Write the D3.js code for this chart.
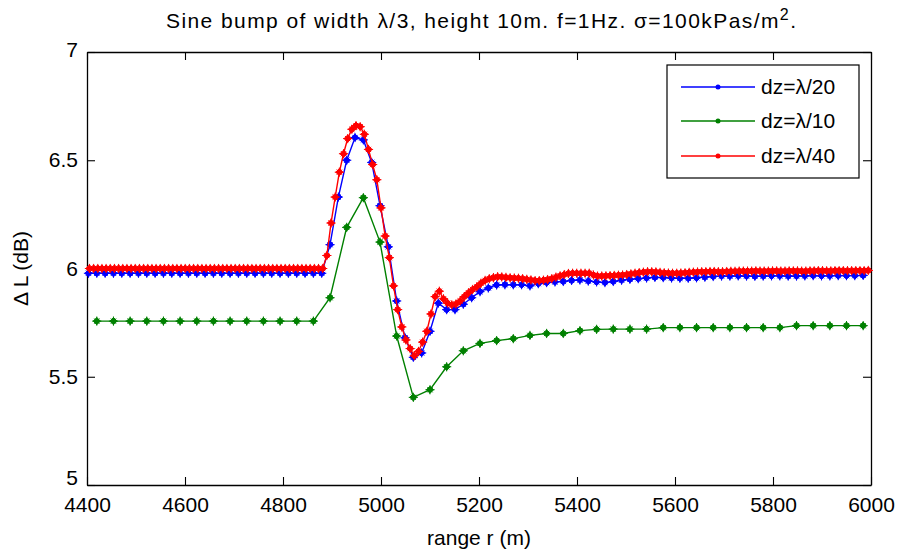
<!DOCTYPE html>
<html>
<head>
<meta charset="utf-8">
<script src="https://cdn.jsdelivr.net/npm/d3@7"></script>
<style>
  body { margin: 0; background: #fff; }
  text { font-family: "Liberation Sans", Arial, sans-serif; fill: #000; }
</style>
</head>
<body>
<svg id="chart" width="898" height="554"></svg>
<script>
// range grids: first range (m) and step (m) = dz of each run
const blueStart = 4403, blueStep = 17;
const greenStart = 4420, greenStep = 34;
const redStart = 4405, redStep = 8.5;

const seriesNames = ['dz=λ/20', 'dz=λ/10', 'dz=λ/40'];
const seriesColors = ['#0000ff', '#008000', '#ff0000'];

// dz = lambda/20
const blueDL = [
	5.978, 5.978, 5.978, 5.978, 5.978, 5.978, 5.978, 5.978, 5.978, 5.978,
	5.978, 5.978, 5.978, 5.978, 5.978, 5.978, 5.978, 5.978, 5.978, 5.978,
	5.978, 5.978, 5.978, 5.978, 5.978, 5.978, 5.978, 5.978, 5.978,
	6.11, 6.33, 6.50, 6.605, 6.594, 6.49, 6.29, 6.10, 5.85, 5.68,
	5.59, 5.61, 5.71, 5.84, 5.81, 5.81, 5.835, 5.865, 5.893, 5.91,
	5.924, 5.925, 5.925, 5.925, 5.92, 5.93, 5.935, 5.938, 5.94, 5.945,
	5.947, 5.942, 5.938, 5.935, 5.94, 5.946, 5.95, 5.953, 5.956, 5.959,
	5.958, 5.956, 5.955, 5.955, 5.957, 5.96, 5.963,
	5.965, 5.965, 5.966, 5.965, 5.964, 5.965, 5.966, 5.966, 5.965, 5.965,
	5.966, 5.967, 5.966, 5.966, 5.967, 5.967, 5.967, 5.968
];

// dz = lambda/10
const greenDL = [
	5.757, 5.757, 5.757, 5.757, 5.757, 5.757, 5.757, 5.757, 5.757, 5.757,
	5.757, 5.757, 5.757, 5.757,
	5.865, 6.19, 6.327, 6.122, 5.688, 5.405, 5.44, 5.546, 5.62, 5.654,
	5.667, 5.676, 5.691, 5.70, 5.70, 5.713, 5.719, 5.72, 5.72, 5.72,
	5.727, 5.727, 5.727, 5.727, 5.727, 5.727, 5.727, 5.727,
	5.736, 5.736, 5.736, 5.736, 5.736
];

// dz = lambda/40
const redDL = [
	6.00, 6.00, 6.00, 6.00, 6.00, 6.00, 6.00, 6.00, 6.00, 6.00,
	6.00, 6.00, 6.00, 6.00, 6.00, 6.00, 6.00, 6.00, 6.00, 6.00,
	6.00, 6.00, 6.00, 6.00, 6.00, 6.00, 6.00, 6.00, 6.00, 6.00,
	6.00, 6.00, 6.00, 6.00, 6.00, 6.00, 6.00, 6.00, 6.00, 6.00,
	6.00, 6.00, 6.00, 6.00, 6.00, 6.00, 6.00, 6.00, 6.00, 6.00,
	6.00, 6.00, 6.00, 6.00, 6.00, 6.00, 6.00,
	6.06, 6.21, 6.33, 6.445, 6.53, 6.60, 6.643, 6.66, 6.655, 6.62,
	6.55, 6.48, 6.41, 6.28, 6.15, 6.05, 5.92, 5.81, 5.73, 5.67,
	5.63, 5.597, 5.617, 5.66, 5.71, 5.79, 5.87, 5.895, 5.86, 5.84,
	5.832, 5.836, 5.85, 5.87, 5.888, 5.903, 5.915, 5.932, 5.945, 5.953,
	5.958, 5.962, 5.961, 5.959, 5.957, 5.956, 5.955, 5.953, 5.95, 5.947,
	5.944, 5.944, 5.946, 5.949, 5.953, 5.96, 5.966, 5.972, 5.977, 5.978,
	5.978, 5.978, 5.978, 5.978, 5.97, 5.965, 5.965, 5.966, 5.967, 5.968,
	5.969, 5.97, 5.972, 5.975, 5.978, 5.981, 5.983, 5.985, 5.985, 5.984,
	5.982, 5.98, 5.979, 5.978, 5.978, 5.979, 5.98,
	5.982, 5.983, 5.984, 5.985, 5.985, 5.986, 5.986, 5.985, 5.985, 5.986,
	5.987, 5.987, 5.988, 5.988, 5.988, 5.988, 5.989, 5.988, 5.988, 5.988,
	5.989, 5.989, 5.988, 5.988, 5.989, 5.989, 5.989, 5.988, 5.988, 5.989,
	5.989, 5.99, 5.99, 5.989, 5.989, 5.99, 5.99, 5.99, 5.99, 5.99,
	5.99, 5.99, 5.99, 5.991
];

const xTicks = [4400, 4600, 4800, 5000, 5200, 5400, 5600, 5800, 6000];
const yTicks = [5, 5.5, 6, 6.5, 7];

const svg = d3.select('#chart');
const mLeft = 87, mRight = 871, mTop = 52, mBottom = 485;

const x = d3.scaleLinear().domain([4400, 6000]).range([mLeft, mRight]);
const y = d3.scaleLinear().domain([5, 7]).range([mBottom, mTop]);

//build point lists from the range grid of each run
function toPoints(vals, start, step) {
	return vals.map((v, i) => ({ r: start + i * step, v: v }));
}
const series = [
	toPoints(blueDL, blueStart, blueStep),
	toPoints(greenDL, greenStart, greenStep),
	toPoints(redDL, redStart, redStep)
];

//frame
svg.append('rect')
	.attr('x', mLeft).attr('y', mTop)
	.attr('width', mRight - mLeft).attr('height', mBottom - mTop)
	.attr('fill', '#fff');

const fontSize = '21px';

//axes, ticks pointing inward
const gx = svg.append('g').attr('transform', `translate(0,${mBottom})`)
	.call(d3.axisBottom(x).tickValues(xTicks).tickSizeInner(-8).tickSizeOuter(0).tickPadding(12)
		.tickFormat(d3.format('d')));
const gxt = svg.append('g').attr('transform', `translate(0,${mTop})`)
	.call(d3.axisTop(x).tickValues(xTicks).tickSizeInner(-8).tickSizeOuter(0).tickFormat(''));
const gy = svg.append('g').attr('transform', `translate(${mLeft},0)`)
	.call(d3.axisLeft(y).tickValues(yTicks).tickSizeInner(-8).tickSizeOuter(0).tickPadding(9)
		.tickFormat(d => d3.format('')(d)));
const gyr = svg.append('g').attr('transform', `translate(${mRight},0)`)
	.call(d3.axisRight(y).tickValues(yTicks).tickSizeInner(-8).tickSizeOuter(0).tickFormat(''));

[gx, gxt, gy, gyr].forEach(g => {
	g.selectAll('path.domain').attr('stroke', '#000').attr('stroke-width', 1.3);
	g.selectAll('line').attr('stroke', '#000').attr('stroke-width', 1.1);
	g.selectAll('text').style('font-size', fontSize).style('font-family', '"Liberation Sans", Arial, sans-serif');
});
//bottom y label sits a bit higher so it clears the x labels
gy.selectAll('.tick').filter(d => d === 5).select('text').attr('y', -7);
gy.selectAll('.tick').filter(d => d === 7).select('text').attr('y', -2);

//lines
const line = d3.line().x(d => x(d.r)).y(d => y(d.v));

function markerPath(cx, cy) {
	var r = 3.6;
	var d = 2.6;
	return `M${cx - r},${cy}L${cx},${cy - r}L${cx + r},${cy}L${cx},${cy + r}Z` +
		`M${cx - r - 1},${cy}L${cx + r + 1},${cy}M${cx},${cy - r - 1}L${cx},${cy + r + 1}` +
		`M${cx - d},${cy - d}L${cx + d},${cy + d}M${cx - d},${cy + d}L${cx + d},${cy - d}`;
}

for (var s = 0; s < series.length; s++) {
	var pts = series[s];
	var col = seriesColors[s];
	svg.append('path')
		.datum(pts)
		.attr('d', line)
		.attr('fill', 'none')
		.attr('stroke', col)
		.attr('stroke-width', 1.4);
	svg.append('g')
		.selectAll('path')
		.data(pts)
		.join('path')
		.attr('d', d => markerPath(x(d.r), y(d.v)))
		.attr('fill', col)
		.attr('stroke', col)
		.attr('stroke-width', 1);
}

//title
const title = svg.append('text')
	.attr('x', (mLeft + mRight) / 2 + 2)
	.attr('y', 28)
	.attr('text-anchor', 'middle')
	.attr('textLength', 630)
	.attr('lengthAdjust', 'spacing')
	.style('font-size', fontSize);
title.append('tspan').text('Sine bump of width λ/3, height 10m. f=1Hz. σ=100kPas/m');
title.append('tspan').attr('dy', -8).style('font-size', '16px').text('2');
title.append('tspan').attr('dy', 8).text('.');

//axis labels
svg.append('text')
	.attr('x', (mLeft + mRight) / 2)
	.attr('y', 545)
	.attr('text-anchor', 'middle')
	.style('font-size', fontSize)
	.text('range r (m)');

svg.append('text')
	.attr('transform', `translate(28,${(mTop + mBottom) / 2}) rotate(-90)`)
	.attr('text-anchor', 'middle')
	.style('font-size', fontSize)
	.text('Δ L (dB)');

//legend
const lg = svg.append('g');
lg.append('rect')
	.attr('x', 667).attr('y', 65)
	.attr('width', 192).attr('height', 113)
	.attr('fill', '#fff')
	.attr('stroke', '#000')
	.attr('stroke-width', 1.2);
const rowY = [87, 121, 156];
for (var k = 0; k < seriesNames.length; k++) {
	lg.append('line')
		.attr('x1', 681).attr('x2', 755)
		.attr('y1', rowY[k]).attr('y2', rowY[k])
		.attr('stroke', seriesColors[k])
		.attr('stroke-width', 1.4);
	lg.append('circle')
		.attr('cx', 718).attr('cy', rowY[k])
		.attr('r', 2.5)
		.attr('fill', seriesColors[k]);
	lg.append('text')
		.attr('x', 761).attr('y', rowY[k] + 7)
		.style('font-size', fontSize)
		.text(seriesNames[k]);
}
</script>
</body>
</html>
